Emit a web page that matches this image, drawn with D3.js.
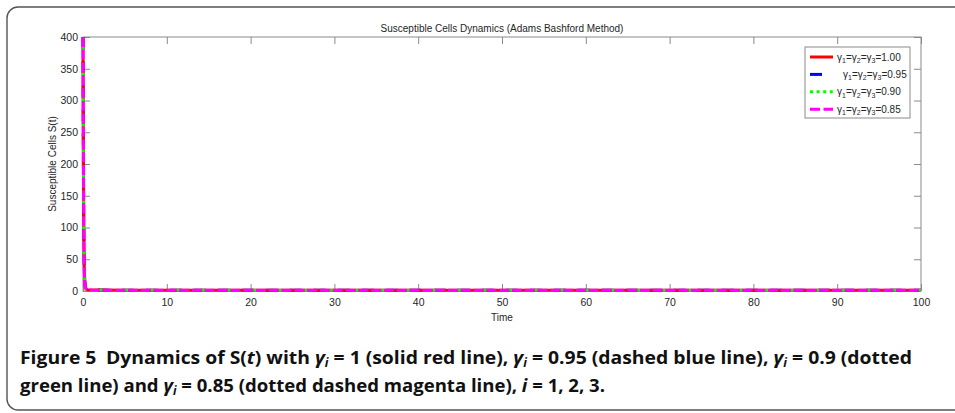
<!DOCTYPE html>
<html>
<head>
<meta charset="utf-8">
<script src="https://cdn.jsdelivr.net/npm/d3@7"></script>
<style>
  html, body { margin: 0; padding: 0; background: #fff; }
  svg { display: block; }
</style>
</head>
<body>
<svg id="chart" width="955" height="413"></svg>
<script>
// Time grid of the numerical solution (Adams-Bashforth steps kept for plotting)
const timeSteps = [0, 0.02, 0.05, 0.1, 0.15, 0.2, 0.3, 0.5, 1, 2, 5, 10, 20, 30, 40, 50, 60, 70, 80, 90, 100];

// S(t) for each fractional order gamma
const sGamma100 = [400, 305, 200, 92, 40, 17, 5, 2.1, 1.6, 1.4, 1.3, 1.3, 1.3, 1.3, 1.3, 1.3, 1.3, 1.3, 1.3, 1.3, 1.3];
const sGamma095 = [400, 300, 196, 90, 39, 16, 4.8, 2.0, 1.6, 1.4, 1.3, 1.3, 1.3, 1.3, 1.3, 1.3, 1.3, 1.3, 1.3, 1.3, 1.3];
const sGamma090 = [400, 296, 192, 88, 38, 16, 4.6, 2.0, 1.5, 1.4, 1.3, 1.3, 1.3, 1.3, 1.3, 1.3, 1.3, 1.3, 1.3, 1.3, 1.3];
const sGamma085 = [400, 292, 188, 86, 37, 15, 4.4, 1.9, 1.5, 1.3, 1.3, 1.3, 1.3, 1.3, 1.3, 1.3, 1.3, 1.3, 1.3, 1.3, 1.3];

const legendValues = ["1.00", "0.95", "0.90", "0.85"];
const seriesColors = ["#ff0000", "#0000ff", "#00ff00", "#ff00ff"];

const xTicks = [0, 10, 20, 30, 40, 50, 60, 70, 80, 90, 100];
const yTicks = [0, 50, 100, 150, 200, 250, 300, 350, 400];

const chartTitle = "Susceptible Cells Dynamics (Adams Bashford Method)";
const xLabel = "Time";
const yLabel = "Susceptible Cells S(t)";

const svg = d3.select("#chart");

// outer figure frame with rounded corner
svg.append("rect")
  .attr("x", 7).attr("y", 7)
  .attr("width", 970).attr("height", 403)
  .attr("rx", 11).attr("ry", 11)
  .attr("fill", "none")
  .attr("stroke", "#555")
  .attr("stroke-width", 1.4);

const x = d3.scaleLinear().domain([0, 100]).range([83, 921]);
const y = d3.scaleLinear().domain([0, 400]).range([291, 37]);

const axisColor = "#8a8a8a";
const textColor = "#262626";
const font = "'Liberation Sans', Arial, sans-serif";

// axes box
svg.append("rect")
  .attr("x", x(0)).attr("y", y(400))
  .attr("width", x(100) - x(0)).attr("height", y(0) - y(400))
  .attr("fill", "none").attr("stroke", axisColor).attr("stroke-width", 1);

const tickLen = 7;
function styleAxis(g) {
  g.select(".domain").remove();
  g.selectAll(".tick line").attr("stroke", axisColor);
  g.selectAll(".tick text").attr("fill", textColor)
    .style("font-family", font).style("font-size", "10.5px");
}

// bottom and left axes with inward ticks
svg.append("g").attr("transform", `translate(0,${y(0)})`)
  .call(d3.axisBottom(x).tickValues(xTicks).tickSizeInner(-tickLen).tickSizeOuter(0).tickPadding(8))
  .call(styleAxis);
svg.append("g").attr("transform", `translate(${x(0)},0)`)
  .call(d3.axisLeft(y).tickValues(yTicks).tickSizeInner(-tickLen).tickSizeOuter(0).tickPadding(5))
  .call(styleAxis);
// mirrored ticks on top and right
svg.append("g").attr("transform", `translate(0,${y(400)})`)
  .call(d3.axisTop(x).tickValues(xTicks).tickSizeInner(-tickLen).tickSizeOuter(0).tickFormat(""))
  .call(styleAxis);
svg.append("g").attr("transform", `translate(${x(100)},0)`)
  .call(d3.axisRight(y).tickValues(yTicks).tickSizeInner(-tickLen).tickSizeOuter(0).tickFormat(""))
  .call(styleAxis);

// titles
svg.append("text").attr("x", (x(0) + x(100)) / 2).attr("y", 32)
  .attr("text-anchor", "middle").attr("fill", textColor)
  .style("font-family", font).style("font-size", "10px").text(chartTitle);
svg.append("text").attr("x", (x(0) + x(100)) / 2).attr("y", 321)
  .attr("text-anchor", "middle").attr("fill", textColor)
  .style("font-family", font).style("font-size", "10px").text(xLabel);
svg.append("text")
  .attr("transform", `translate(56,${(y(0) + y(400)) / 2}) rotate(-90)`)
  .attr("text-anchor", "middle").attr("fill", textColor)
  .style("font-family", font).style("font-size", "10px").text(yLabel);

// series lines (blue drawn first, then red, green dots, magenta dashes on top)
const series = [
  { values: sGamma095, color: seriesColors[1], dash: "12,12", offset: 0 },
  { values: sGamma100, color: seriesColors[0], dash: null, offset: 0 },
  { values: sGamma090, color: seriesColors[2], dash: "2.8,22.8", offset: -10 },
  { values: sGamma085, color: seriesColors[3], dash: "10,2.8", offset: 0 }
];
const line = d3.line().x((d, i) => x(timeSteps[i])).y(d => y(d));
series.forEach(s => {
  svg.append("path")
    .attr("d", line(s.values))
    .attr("fill", "none")
    .attr("stroke", s.color)
    .attr("stroke-width", 3)
    .attr("stroke-dasharray", s.dash)
    .attr("stroke-dashoffset", s.offset);
});

// legend
const lg = svg.append("g");
lg.append("rect").attr("x", 805).attr("y", 47).attr("width", 105).attr("height", 71)
  .attr("fill", "#fff").attr("stroke", axisColor).attr("stroke-width", 1);
const legendDash = [null, "12,30", "3,3.6", "10,3.5"];
const legendTextX = [837, 843, 837, 837];
legendValues.forEach((v, i) => {
  const cy = 57 + i * 17.4;
  lg.append("line").attr("x1", 810).attr("x2", 833).attr("y1", cy).attr("y2", cy)
    .attr("stroke", seriesColors[i]).attr("stroke-width", 3)
    .attr("stroke-dasharray", legendDash[i]);
  const t = lg.append("text").attr("x", legendTextX[i]).attr("y", cy + 3.5).attr("fill", textColor)
    .style("font-family", font).style("font-size", "10px");
  [1, 2, 3].forEach(k => {
    t.append("tspan").text("γ");
    t.append("tspan").attr("dy", 2.5).style("font-size", "7px").text(k);
    t.append("tspan").attr("dy", -2.5).text(k < 3 ? "=" : "=" + v);
  });
});

// figure caption
const capFont = "'Open Sans', 'Noto Sans', sans-serif";
const cap = svg.append("g").style("font-family", capFont).style("font-weight", "bold")
  .style("font-size", "18px").attr("fill", "#111");

function gammaI(t) {
  t.append("tspan").style("font-style", "italic").text("γ");
  t.append("tspan").style("font-style", "italic").style("font-size", "11.5px").attr("dy", 3).text("i");
  t.append("tspan").attr("dy", -3).text(" ");
}
const line1 = cap.append("text").attr("x", 20).attr("y", 364);
line1.append("tspan").text("Figure 5\u2002Dynamics of ");
line1.append("tspan").text("S(");
line1.append("tspan").style("font-style", "italic").text("t");
line1.append("tspan").text(") with ");
gammaI(line1);
line1.append("tspan").text("= 1 (solid red line), ");
gammaI(line1);
line1.append("tspan").text("= 0.95 (dashed blue line), ");
gammaI(line1);
line1.append("tspan").text("= 0.9 (dotted");

const line2 = cap.append("text").attr("x", 20).attr("y", 392);
line2.append("tspan").text("green line) and ");
gammaI(line2);
line2.append("tspan").text("= 0.85 (dotted dashed magenta line), ");
line2.append("tspan").style("font-style", "italic").text("i");
line2.append("tspan").text(" = 1, 2, 3.");

// condense caption lines to the typeset widths
[[line1, 892], [line2, 585]].forEach(([t, w]) => {
  t.attr("textLength", w).attr("lengthAdjust", "spacingAndGlyphs");
});
</script>
</body>
</html>
